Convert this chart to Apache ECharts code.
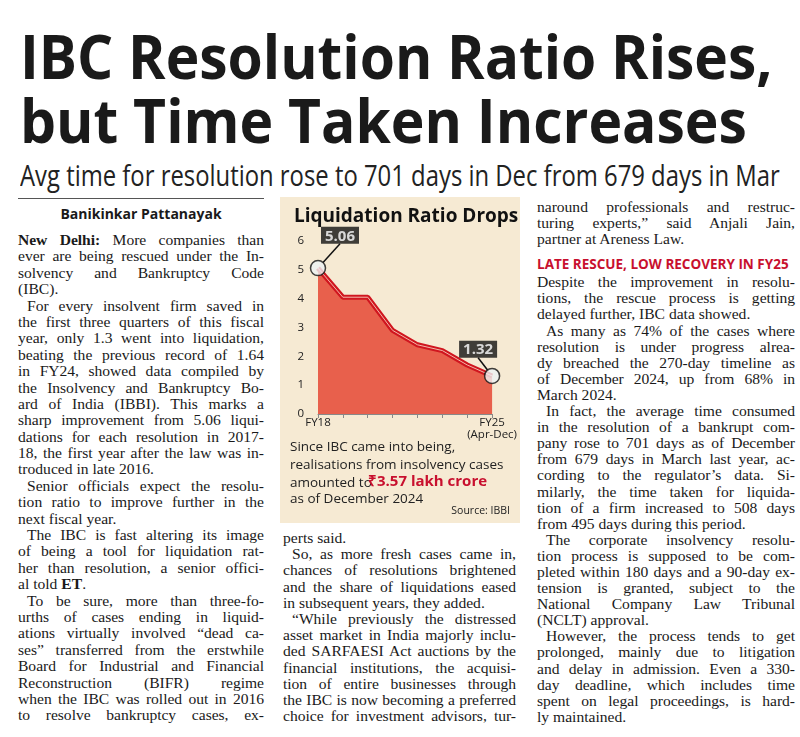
<!DOCTYPE html>
<html><head><meta charset="utf-8">
<script src="https://cdn.jsdelivr.net/npm/echarts@6/dist/echarts.min.js"></script>
<style>
body{margin:0;background:#fff;width:800px;height:737px;overflow:hidden;position:relative;font-family:"Liberation Serif",serif;color:#1a1a1a}
.fit{position:absolute;white-space:nowrap;transform-origin:0 0}
.col{position:absolute}
.ln{text-align:justify;text-align-last:justify;font-size:15.6px;height:1lh;overflow:visible}
.ln.last{text-align-last:left}
.ln.ind{text-indent:9px}
</style></head><body>
<div class="fit" id="h1" data-w="752" data-sy="1.1" style="left:20px;top:24px;font:bold 56px 'Liberation Sans Narrow','Open Sans',sans-serif;line-height:56px">IBC Resolution Ratio Rises,</div>
<div class="fit" id="h2" data-w="727" data-sy="1.1" style="left:20px;top:88px;font:bold 56px 'Liberation Sans Narrow','Open Sans',sans-serif;line-height:56px">but Time Taken Increases</div>
<div class="fit" id="sub" data-w="760" style="left:20px;top:158px;font:29px 'Open Sans',sans-serif;line-height:34px;color:#222">Avg time for resolution rose to 701 days in Dec from 679 days in Mar</div>
<div style="position:absolute;left:18px;top:198px;width:246px;height:1px;background:#555"></div>
<div style="position:absolute;left:18px;top:204px;width:246px;text-align:center;font:bold 14px 'Open Sans',sans-serif">Banikinkar Pattanayak</div>
<div class="col" id="c1" style="left:18px;top:232px;width:246px;line-height:16.4px"></div>
<div class="col" id="c2" style="left:283px;top:530px;width:233px;line-height:16.2px"></div>
<div class="col" id="c3" style="left:537px;top:199px;width:258px;line-height:16.1px"></div>
<div id="chart" style="position:absolute;left:280px;top:197px;width:240px;height:326px"></div>
<script>
// chart data
var years = ['FY18', 'FY19', 'FY20', 'FY21', 'FY22', 'FY23', 'FY24', 'FY25'];
var ratio = [5.06, 4.05, 4.05, 2.9, 2.4, 2.2, 1.7, 1.32];

// article text, one entry per printed line ('>' = paragraph start, '|' = paragraph end)
var col1 = [
  '<b>New Delhi:</b> More companies than', 'ever are being rescued under the In-', 'solvency and Bankruptcy Code', '(IBC).|',
  '>For every insolvent firm saved in', 'the first three quarters of this fiscal', 'year, only 1.3 went into liquidation,', 'beating the previous record of 1.64',
  'in FY24, showed data compiled by', 'the Insolvency and Bankruptcy Bo-', 'ard of India (IBBI). This marks a', 'sharp improvement from 5.06 liqui-',
  'dations for each resolution in 2017-', '18, the first year after the law was in-', 'troduced in late 2016.|',
  '>Senior officials expect the resolu-', 'tion ratio to improve further in the', 'next fiscal year.|',
  '>The IBC is fast altering its image', 'of being a tool for liquidation rat-', 'her than resolution, a senior offici-', 'al told <b>ET</b>.|',
  '>To be sure, more than three-fo-', 'urths of cases ending in liquid-', 'ations virtually involved \u201cdead ca-', 'ses\u201d transferred from the erstwhile',
  'Board for Industrial and Financial', 'Reconstruction (BIFR) regime', 'when the IBC was rolled out in 2016', 'to resolve bankruptcy cases, ex-'
];
var col2 = [
  'perts said.|', '>So, as more fresh cases came in,', 'chances of resolutions brightened', 'and the share of liquidations eased', 'in subsequent years, they added.|',
  '>\u201cWhile previously the distressed', 'asset market in India majorly inclu-', 'ded SARFAESI Act auctions by the', 'financial institutions, the acquisi-',
  'tion of entire businesses through', 'the IBC is now becoming a preferred', 'choice for investment advisors, tur-'
];
var col3 = [
  'naround professionals and restruc-', 'turing experts,\u201d said Anjali Jain,', 'partner at Areness Law.|', '#LATE RESCUE, LOW RECOVERY IN FY25',
  'Despite the improvement in resolu-', 'tions, the rescue process is getting', 'delayed further, IBC data showed.|',
  '>As many as 74% of the cases where', 'resolution is under progress alrea-', 'dy breached the 270-day timeline as', 'of December 2024, up from 68% in', 'March 2024.|',
  '>In fact, the average time consumed', 'in the resolution of a bankrupt com-', 'pany rose to 701 days as of December', 'from 679 days in March last year, ac-',
  'cording to the regulator\u2019s data. Si-', 'milarly, the time taken for liquida-', 'tion of a firm increased to 508 days', 'from 495 days during this period.|',
  '>The corporate insolvency resolu-', 'tion process is supposed to be com-', 'pleted within 180 days and a 90-day ex-', 'tension is granted, subject to the',
  'National Company Law Tribunal', '(NCLT) approval.|',
  '>However, the process tends to get', 'prolonged, mainly due to litigation', 'and delay in admission. Even a 330-', 'day deadline, which includes time', 'spent on legal proceedings, is hard-', 'ly maintained.|'
];

function fill(id, lines) {
  var el = document.getElementById(id);
  lines.forEach(function(t) {
    var d = document.createElement('div');
    d.className = 'ln';
    if (t[0] === '#') {
      d.className = 'ln last';
      d.style.cssText = 'font:bold 13.5px "Open Sans",sans-serif;color:#c8102e;margin:8px 0 1px;';
      t = t.slice(1);
    }
    var ind = 0;
    if (t[0] === '>') { d.className += ' ind'; t = t.slice(1); ind = 9; }
    if (t[t.length - 1] === '|') { d.className += ' last'; t = t.slice(0, -1); }
    el.appendChild(d);
    // measure natural width, tighten letters if the line would wrap
    var probe = document.createElement('span');
    probe.style.whiteSpace = 'nowrap';
    probe.innerHTML = t;
    d.appendChild(probe);
    var avail = d.clientWidth - ind - 1;
    var w = probe.getBoundingClientRect().width;
    if (w > avail) d.style.letterSpacing = ((avail - w) / t.replace(/<[^>]+>/g, '').length) + 'px';
    d.innerHTML = t;
  });
}
fill('c1', col1); fill('c2', col2); fill('c3', col3);

document.querySelectorAll('.fit').forEach(function(el) {
  var w = +el.dataset.w;
  var sy = el.dataset.sy || 1;
  el.style.transform = 'scale(' + (w / el.offsetWidth) + ',' + sy + ')';
});

var chart = echarts.init(document.getElementById('chart'));
var last = ratio.length - 1;
chart.setOption({
  backgroundColor: '#f6ead3',
  animation: false,
  title: {
    text: 'Liquidation Ratio Drops', left: 9, top: 5,
    textStyle: { fontFamily: 'Open Sans', fontWeight: 'bold', fontSize: 19, color: '#111' }
  },
  grid: { left: 38, right: 24, top: 44, bottom: 109 },
  xAxis: {
    type: 'category', data: years, boundaryGap: false,
    axisLine: { lineStyle: { color: '#888' } },
    axisTick: { show: true, length: 4, lineStyle: { color: '#888' } },
    axisLabel: {
      interval: 0, fontFamily: 'Open Sans', fontSize: 11.5, color: '#222', margin: 3,
      formatter: function(v, i) { return i === 0 ? v : (i === last ? v + '\n(Apr-Dec)' : ''); },
      lineHeight: 12
    }
  },
  yAxis: {
    type: 'value', min: 0, max: 6, interval: 1,
    splitLine: { show: false }, axisLine: { show: false }, axisTick: { show: false },
    axisLabel: { fontFamily: 'Open Sans', fontSize: 11.5, color: '#222', margin: 14 }
  },
  series: [{
    type: 'line', data: ratio, symbol: 'none',
    lineStyle: { color: '#d0161f', width: 5 },
    areaStyle: { color: '#e8604c', opacity: 1 },
    z: 2
  }, {
    type: 'line', data: ratio, symbol: 'none',
    lineStyle: { color: '#f4b6a8', width: 1 }, z: 3
  }, {
    type: 'scatter',
    data: [[0, ratio[0]], [last, ratio[last]]],
    symbolSize: 15,
    itemStyle: { color: '#eef3f4', borderColor: '#111', borderWidth: 1.5 },
    z: 5,
    label: {
      show: true, fontFamily: 'Open Sans', fontWeight: 'bold', fontSize: 15, color: '#fff',
      backgroundColor: '#111', padding: [2, 4, 0, 4],
      formatter: function(p) { return p.value[1].toFixed(2); },
      position: 'top', distance: 18
    },
    labelLine: { show: true, lineStyle: { color: '#111', width: 1.5 } },
    labelLayout: function(p) {
      return p.dataIndex === 0 ? { dx: 22, dy: 2 } : { dx: -14, dy: 8 };
    }
  }],
  graphic: [
    { type: 'text', left: 10, top: 241, style: { text: 'Since IBC came into being,\nrealisations from insolvency cases\namounted to', font: '13.5px "Open Sans"', fill: '#222', lineHeight: 18 } },
    { type: 'text', left: 88, top: 277, style: { text: '\u20b93.57 lakh crore', font: 'bold 15px "Open Sans"', fill: '#c8102e' } },
    { type: 'text', left: 10, top: 295, style: { text: 'as of December 2024', font: '13.5px "Open Sans"', fill: '#222' } },
    { type: 'text', right: 10, top: 309, style: { text: 'Source: IBBI', font: '10.5px "Open Sans"', fill: '#222' } }
  ]
});
</script>
</body></html>
